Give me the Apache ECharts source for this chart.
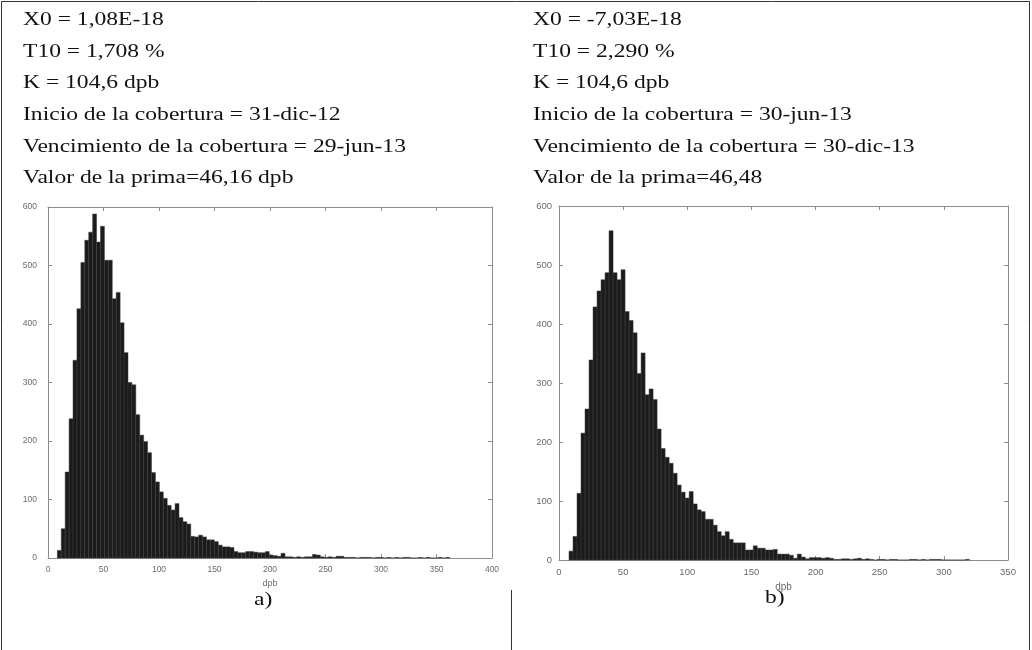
<!DOCTYPE html>
<html>
<head>
<meta charset="utf-8">
<script src="https://cdn.jsdelivr.net/npm/echarts@6/dist/echarts.min.js"></script>
<style>
html, body { margin: 0; padding: 0; background: #fff; }
#charts { width: 1032px; height: 650px; }
</style>
</head>
<body>
<div id="charts"></div>
<script>
// histogram a) : 100 bins between leftMin and leftMax (dpb)
const leftMin = 8.4;
const leftMax = 362;
const leftCounts = [
    13, 50, 147, 238, 338, 426, 505, 543, 557, 588,
    540, 567, 509, 509, 443, 454, 402, 351, 300, 296,
    245, 210, 199, 180, 146, 130, 113, 102, 90, 82,
    93, 69, 62, 58, 37, 36, 39, 36, 31, 31,
    28, 22, 19, 19, 18, 11, 9, 9, 11, 11,
    10, 9, 9, 11, 5, 4, 3, 8, 2, 2,
    1, 2, 1, 2, 2, 6, 5, 2, 1, 2,
    1, 3, 3, 1, 1, 1, 0, 1, 1, 1,
    0, 1, 1, 0, 1, 0, 1, 0, 1, 1,
    0, 0, 1, 0, 1, 0, 0, 1, 0, 1
];
// histogram b)
const rightMin = 7.8;
const rightMax = 320;
const rightCounts = [
    15, 40, 113, 215, 256, 339, 429, 456, 475, 487,
    558, 487, 475, 492, 421, 406, 385, 316, 351, 280,
    290, 272, 222, 189, 174, 164, 147, 127, 115, 105,
    116, 95, 85, 82, 69, 69, 59, 48, 41, 48,
    35, 29, 29, 29, 17, 17, 24, 20, 20, 17,
    17, 18, 10, 10, 10, 8, 3, 10, 5, 2,
    4, 4, 4, 3, 4, 3, 1, 1, 2, 2,
    1, 2, 3, 1, 2, 1, 0, 1, 1, 0,
    1, 1, 0, 0, 0, 1, 1, 0, 1, 0,
    1, 1, 1, 0, 0, 0, 0, 0, 0, 1
];

const leftXTicks = [0, 400, 50];
const rightXTicks = [0, 350, 50];
const yTicks = [0, 600, 100];

const leftInfo = [
    'X0 = 1,08E-18',
    'T10 = 1,708 %',
    'K = 104,6 dpb',
    'Inicio de la cobertura = 31-dic-12',
    'Vencimiento de la cobertura = 29-jun-13',
    'Valor de la prima=46,16 dpb'
];
const rightInfo = [
    'X0 = -7,03E-18',
    'T10 = 2,290 %',
    'K = 104,6 dpb',
    'Inicio de la cobertura = 30-jun-13',
    'Vencimiento de la cobertura = 30-dic-13',
    'Valor de la prima=46,48'
];
const panelLabels = ['a)', 'b)'];

const toBins = (min, max, counts) => {
    const w = (max - min) / counts.length;
    return counts.map((c, i) => [min + i * w, min + (i + 1) * w, c]);
};

const renderBar = (params, api) => {
    const lo = api.coord([api.value(0), 0]);
    const hi = api.coord([api.value(1), api.value(2)]);
    return {
        type: 'rect',
        shape: {x: lo[0], y: hi[1], width: hi[0] - lo[0], height: lo[1] - hi[1]},
        style: {fill: '#1b1b1b', stroke: '#3c3c3c', lineWidth: 0.5}
    };
};

const frameColor = '#8c8c8c';
const labelStyle = size => ({fontSize: size, color: '#6a6a6a', fontFamily: 'Liberation Sans'});

const makeX = (idx, ticks, pos, labels, size, gap) => ({
    type: 'value', gridIndex: idx, position: pos,
    min: ticks[0], max: ticks[1], interval: ticks[2],
    name: labels ? 'dpb' : '', nameLocation: 'middle', nameGap: gap,
    nameTextStyle: labelStyle(size + 0.5),
    axisLine: {show: true, onZero: false, lineStyle: {color: frameColor, width: 1}},
    axisTick: {show: true, inside: true, length: 4, lineStyle: {color: frameColor}},
    axisLabel: {show: labels, margin: 7, ...labelStyle(size)},
    splitLine: {show: false}
});
const makeY = (idx, pos, labels, size, margin) => ({
    type: 'value', gridIndex: idx, position: pos,
    min: yTicks[0], max: yTicks[1], interval: yTicks[2],
    axisLine: {show: true, onZero: false, lineStyle: {color: frameColor, width: 1}},
    axisTick: {show: true, inside: true, length: 4, lineStyle: {color: frameColor}},
    axisLabel: {show: labels, margin: margin, ...labelStyle(size)},
    splitLine: {show: false}
});

const serif = '19px "Liberation Serif"';
const textLines = (lines, x) => lines.map((s, i) => ({
    type: 'text', x: x, y: 20 + i * 31.7, scaleX: 1.24,
    style: {text: s, font: serif, fill: '#111', verticalAlign: 'middle'}
}));

const chart = echarts.init(document.getElementById('charts'));
const option = {
    animation: false,
    backgroundColor: '#fff',
    grid: [
        {left: 48, top: 207, width: 444, height: 351},
        {left: 559, top: 206, width: 449, height: 354}
    ],
    xAxis: [
        makeX(0, leftXTicks, 'bottom', true, 8.5, 20),
        makeX(0, leftXTicks, 'top', false, 8.5, 0),
        makeX(1, rightXTicks, 'bottom', true, 9.5, 17),
        makeX(1, rightXTicks, 'top', false, 9.5, 0)
    ],
    yAxis: [
        makeY(0, 'left', true, 8.5, 11),
        makeY(0, 'right', false, 8.5, 0),
        makeY(1, 'left', true, 9.5, 7),
        makeY(1, 'right', false, 9.5, 0)
    ],
    series: [
        {type: 'custom', xAxisIndex: 0, yAxisIndex: 0, renderItem: renderBar,
            encode: {x: [0, 1], y: 2}, data: toBins(leftMin, leftMax, leftCounts)},
        {type: 'custom', xAxisIndex: 2, yAxisIndex: 2, renderItem: renderBar,
            encode: {x: [0, 1], y: 2}, data: toBins(rightMin, rightMax, rightCounts)}
    ],
    graphic: [
        {type: 'rect', shape: {x: 1.5, y: 1.5, width: 1028, height: 700},
            style: {fill: 'none', stroke: '#333', lineWidth: 1}},
        {type: 'line', shape: {x1: 511.5, y1: 590, x2: 511.5, y2: 650},
            style: {stroke: '#333', lineWidth: 1}},
        ...textLines(leftInfo, 23),
        ...textLines(rightInfo, 533),
        {type: 'text', x: 254, y: 600, scaleX: 1.24,
            style: {text: panelLabels[0], font: serif, fill: '#111', verticalAlign: 'middle'}},
        {type: 'text', x: 765, y: 598, scaleX: 1.24,
            style: {text: panelLabels[1], font: serif, fill: '#111', verticalAlign: 'middle'}}
    ]
};
chart.setOption(option);
</script>
</body>
</html>
